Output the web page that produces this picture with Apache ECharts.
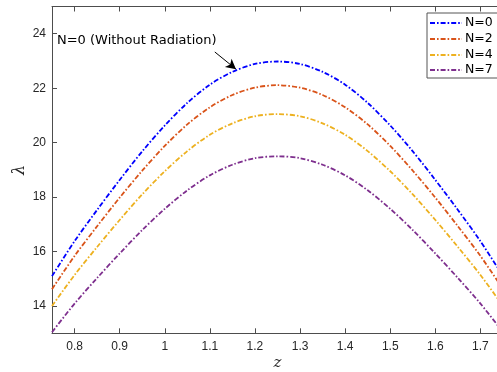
<!DOCTYPE html>
<html><head><meta charset="utf-8">
<script src="https://cdn.jsdelivr.net/npm/echarts@6/dist/echarts.min.js"></script>
<style>html,body{margin:0;padding:0;background:#fff}#c{width:497px;height:372px}</style>
</head><body><div id="c"></div>
<script>
var zValues = [0.75,0.80,0.85,0.90,0.95,1.00,1.05,1.10,1.15,1.20,1.25,1.30,1.35,1.40,1.45,1.50,1.55,1.60,1.65,1.70,1.75];
var lambdaN0 = [15.10,16.38,17.53,18.63,19.68,20.63,21.46,22.13,22.60,22.89,22.98,22.89,22.60,22.13,21.46,20.63,19.68,18.63,17.53,16.38,15.10];
var lambdaN2 = [14.62,15.84,16.93,17.98,18.97,19.88,20.67,21.30,21.75,22.02,22.11,22.02,21.75,21.30,20.67,19.88,18.97,17.98,16.93,15.84,14.62];
var lambdaN4 = [14.00,15.14,16.17,17.16,18.10,18.95,19.69,20.29,20.71,20.97,21.05,20.97,20.71,20.29,19.69,18.95,18.10,17.16,16.17,15.14,14.00];
var lambdaN7 = [13.04,14.09,15.03,15.93,16.79,17.57,18.25,18.80,19.19,19.43,19.50,19.43,19.19,18.80,18.25,17.57,16.79,15.93,15.03,14.09,13.04];
var seriesNames = ['N=0','N=2','N=4','N=7'];
var seriesColors = ['#0000FF','#D95319','#EDB120','#7E2F8E'];
var xTicks = [0.8,0.9,1,1.1,1.2,1.3,1.4,1.5,1.6,1.7];
var yTicks = [14,16,18,20,22,24];
var annotationText = 'N=0 (Without Radiation)';
var arrowFrom = [1.111, 23.33];
var arrowTo = [1.158, 22.70];

function pairs(arr){ return zValues.map(function(z,i){ return [z, arr[i]]; }); }
var allData = [lambdaN0, lambdaN2, lambdaN4, lambdaN7];
var axisColor = '#4d4d4d';
var dashPattern = [5,2,1.6,2];
var labelFont = {color:'#262626', fontSize:12, fontFamily:'Liberation Sans, Arial, sans-serif'};

var series = allData.map(function(arr, i){
  var s = {
    name: seriesNames[i], type:'line', data: pairs(arr), symbol:'none', smooth:0.3,
    lineStyle:{color:seriesColors[i], width:1.8, type:dashPattern},
    itemStyle:{color:seriesColors[i]}, z: 10 - i
  };
  if (i === 0) {
    s.markLine = {
      silent:true, symbol:['none','arrow'], symbolSize:[8,10],
      lineStyle:{color:'#000', width:1, type:'solid'}, label:{show:false},
      data:[[{coord:arrowFrom},{coord:arrowTo}]]
    };
  }
  return s;
});

// legend drawn as graphic elements (real text)
var legendLeft = 427, legendTop = 13, legendRowY = [23, 39, 55, 70];
var graphics = [{
  type:'rect', shape:{x:legendLeft, y:legendTop, width:75, height:65},
  style:{fill:'#fff', stroke:'#555', lineWidth:1}, z:100
}];
seriesNames.forEach(function(n, i){
  graphics.push({
    type:'line', shape:{x1:430, y1:legendRowY[i], x2:462, y2:legendRowY[i]},
    style:{stroke:seriesColors[i], lineWidth:1.8, lineDash:dashPattern}, z:101
  });
  graphics.push({
    type:'text', x:465, y:legendRowY[i],
    style:{text:n, fill:'#000', fontSize:12.5, fontFamily:'DejaVu Sans, sans-serif', verticalAlign:'middle'}, z:101
  });
});
graphics.push({
  type:'text', x:57, y:41,
  style:{text:annotationText, fill:'#000', fontSize:13, fontFamily:'DejaVu Sans, sans-serif', verticalAlign:'middle'}, z:101
});

var chart = echarts.init(document.getElementById('c'), null, {renderer:'canvas'});
chart.setOption({
  animation:false,
  grid:{left:52, right:-6, top:6.5, bottom:38.7, containLabel:false, outerBoundsMode:'none'},
  xAxis:[{
    type:'value', min:0.75, max:1.75, position:'bottom',
    name:'z', nameLocation:'middle', nameGap:22, nameMoveOverlap:false,
    nameTextStyle:{fontFamily:'DejaVu Serif, Liberation Serif, serif', fontStyle:'italic', fontSize:15, color:'#262626'},
    axisLine:{show:true, onZero:false, lineStyle:{color:axisColor, width:1}},
    axisTick:{show:true, inside:true, length:5, customValues:xTicks, lineStyle:{color:axisColor}},
    axisLabel:Object.assign({customValues:xTicks, margin:7}, labelFont),
    splitLine:{show:false}
  },{
    type:'value', min:0.75, max:1.75, position:'top',
    axisLine:{show:true, onZero:false, lineStyle:{color:axisColor, width:1}},
    axisTick:{show:true, inside:true, length:5, customValues:xTicks, lineStyle:{color:axisColor}},
    axisLabel:{show:false}, splitLine:{show:false}
  }],
  yAxis:[{
    type:'value', min:13, max:25, position:'left',
    name:'λ', nameLocation:'middle', nameGap:24, nameRotate:90, nameMoveOverlap:false,
    nameTextStyle:{fontFamily:'DejaVu Serif, Liberation Serif, serif', fontStyle:'italic', fontSize:16, color:'#262626'},
    axisLine:{show:true, onZero:false, lineStyle:{color:axisColor, width:1}},
    axisTick:{show:true, inside:true, length:5, customValues:yTicks, lineStyle:{color:axisColor}},
    axisLabel:Object.assign({customValues:yTicks, margin:6}, labelFont),
    splitLine:{show:false}
  },{
    type:'value', min:13, max:25, position:'right',
    axisLine:{show:true, onZero:false, lineStyle:{color:axisColor, width:1}},
    axisTick:{show:true, inside:true, length:5, customValues:yTicks, lineStyle:{color:axisColor}},
    axisLabel:{show:false}, splitLine:{show:false}
  }],
  graphic:graphics,
  series:series
});
</script></body></html>
